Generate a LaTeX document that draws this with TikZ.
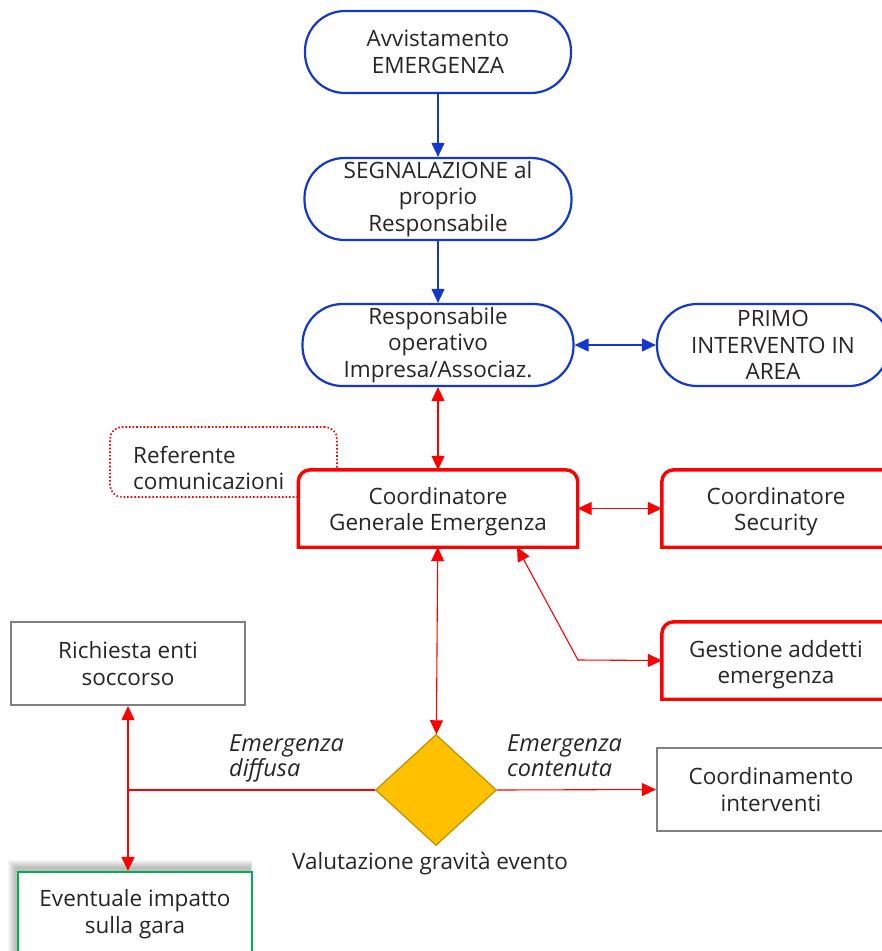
\documentclass[tikz,border=0pt]{standalone}
\usepackage{fontspec}
\setmainfont{Open Sans}
\usetikzlibrary{arrows.meta,shapes.geometric}
\definecolor{fblue}{RGB}{20,55,205}
\definecolor{fred}{RGB}{255,0,0}
\definecolor{fgray}{RGB}{128,128,128}
\definecolor{fgreen}{RGB}{0,176,80}
\definecolor{fgold}{RGB}{255,192,0}
\definecolor{fgoldd}{RGB}{191,144,0}
\definecolor{ftext}{RGB}{38,38,38}
\begin{document}
\begin{tikzpicture}[x=1pt,y=-1pt,
  every node/.style={font=\fontsize{22.5}{26.5}\selectfont, text=ftext, align=center, inner sep=0pt},
  stad/.style={draw=fblue, line width=2.2pt, rounded corners=40pt, fill=white, minimum height=82pt},
  redbox/.style={minimum height=77pt},
  graybox/.style={draw=fgray, line width=2.2pt, fill=white},
  tip/.style={-{Triangle[length=14pt,width=13pt]}},
  bitip/.style={{Triangle[length=14pt,width=13pt]}-{Triangle[length=14pt,width=13pt]}},
  bline/.style={draw=fblue, line width=1.1pt},
  rline/.style={draw=fred, line width=1.1pt},
  lab/.style={font=\fontsize{23.5}{25}\itshape\selectfont, align=left, anchor=north west}
]
\useasboundingbox (0,0) rectangle (882,951);

% top stadiums
\node[stad, minimum width=266pt] (avv) at (438,52) {Avvistamento\\EMERGENZA};
\node[stad, minimum width=267pt] (seg) at (438,199) {SEGNALAZIONE al\\proprio\\Responsabile};
\node[stad, minimum width=271pt] (resp) at (438,345) {Responsabile\\operativo\\Impresa/Associaz.};
\node[stad, minimum width=232pt] (primo) at (773,345) {PRIMO\\INTERVENTO IN\\AREA};

% referente (dotted, behind)
\node[draw=fred, dotted, line width=1.6pt, rounded corners=12pt, minimum width=227pt, minimum height=70pt] (ref) at (223.5,462) {};
\node[align=left, anchor=west] (reft) at (133,468) {Referente\\comunicazioni};

% red boxes
\node[redbox, minimum width=279pt] (cge) at (438,508.5) {};
\node[redbox, minimum width=232pt] (sec) at (778,508.5) {};
\node[redbox, minimum width=232pt] (gest) at (778,660.5) {};
\foreach \n in {cge,sec,gest}{
  \path[fill=white] (\n.south west) rectangle (\n.north east);
  \draw[fred, line width=3.4pt] (\n.south west) [rounded corners=12pt] -- (\n.north west) -- (\n.north east) [sharp corners] -- (\n.south east) -- cycle;
}
\node (cget) at ([yshift=-3pt]cge.center) {Coordinatore\\Generale Emergenza};
\node (sect) at ([xshift=-2pt,yshift=-3pt]sec.center) {Coordinatore\\Security};
\node (gestt) at ([xshift=-2pt,yshift=-4pt]gest.center) {Gestione addetti\\emergenza};

% diamond
\node[diamond, draw=fgoldd, fill=fgold, line width=1.2pt, minimum width=121pt, minimum height=111pt, aspect=1.09] (dia) at (436,790) {};
\node (val) at (430,864) {Valutazione gravità evento};

% gray boxes
\node[graybox, minimum width=234pt, minimum height=83pt] (rich) at (128,663.5) {Richiesta enti\\soccorso};
\node[graybox, minimum width=228pt, minimum height=83pt] (coord) at (771,789.5) {Coordinamento\\interventi};

% eventuale with shadow
\foreach \o in {1,...,8}{
  \fill[black, opacity=0.035] (16-\o,868-\o) rectangle (250+\o*0.3,960);
}
\node[draw=fgreen, line width=2.2pt, fill=white, minimum width=234pt, minimum height=84pt] (evt) at (135,914) {Eventuale impatto\\sulla gara};

% labels
\node[lab] (ld) at (229,735) {Emergenza\\diffusa};
\node[lab] (lc) at (507,735) {Emergenza\\contenuta};

% connectors
\draw[bline, tip] (avv) -- (seg);
\draw[bline, tip] (seg) -- (resp);
\draw[bline, bitip] (resp) -- (primo);
\draw[rline, bitip] (resp) -- (cge);
\draw[rline, bitip] (cge) -- (sec);
\coordinate (gb) at (578,660);
\draw[rline, bitip] ([xshift=79pt]cge.south) -- (gb) -- (gest.west);
\draw[rline, bitip] (cge) -- (dia);
\coordinate (junc) at (128,790);
\draw[rline] (dia.west) -- (junc);
\draw[rline, tip] (junc) -- (rich.south);
\draw[rline, tip] (junc) -- (junc |- evt.north);
\draw[rline, tip] (dia.east) -- (coord.west);
\end{tikzpicture}
\end{document}
